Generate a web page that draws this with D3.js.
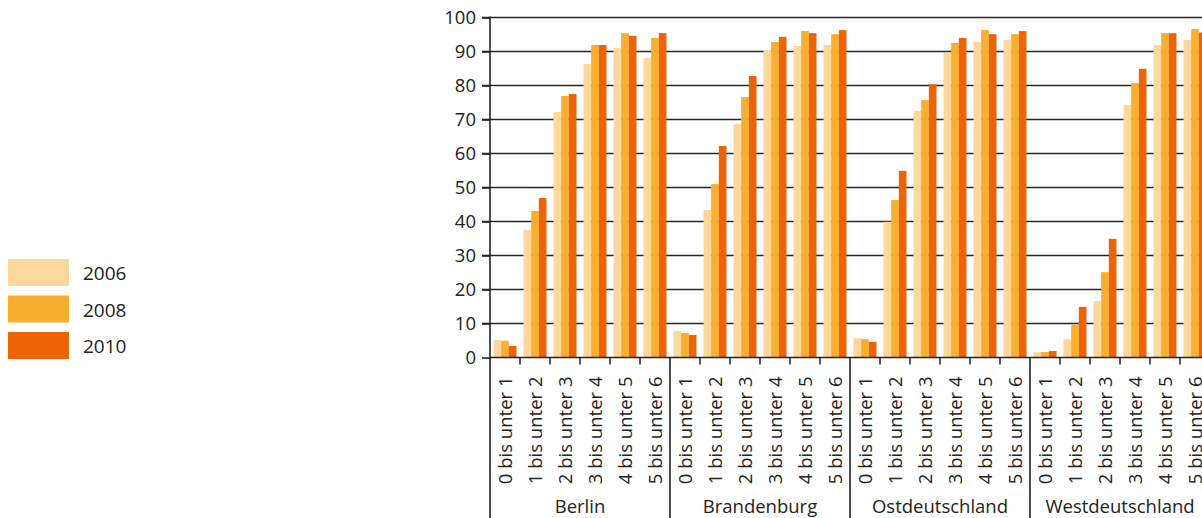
<!DOCTYPE html>
<html><head><meta charset="utf-8">
<script src="https://cdn.jsdelivr.net/npm/d3@7"></script>
<style>
body{margin:0;background:#fff;}
svg{display:block;font-family:"Open Sans","Noto Sans",sans-serif;}
</style></head>
<body><svg id="c" width="1202" height="518"></svg>
<script>
const regions = ["Berlin","Brandenburg","Ostdeutschland","Westdeutschland"];
const ageGroups = ["0 bis unter 1","1 bis unter 2","2 bis unter 3","3 bis unter 4","4 bis unter 5","5 bis unter 6"];
const years = ["2006","2008","2010"];
const colors = ["#FDD89D","#F8AE2F","#EC6406"];
const yTicks = [0,10,20,30,40,50,60,70,80,90,100];
// values per region: rows = age groups, cols = years
const berlin = [[5.1,4.9,3.4],[37.5,43.1,46.9],[72.2,76.9,77.5],[86.3,91.9,91.9],[91.0,95.4,94.6],[88.1,94.0,95.4]];
const brandenburg = [[7.8,7.2,6.6],[43.4,51.0,62.2],[68.7,76.6,82.8],[90.4,92.8,94.3],[91.6,96.0,95.4],[91.9,95.1,96.3]];
const ostdeutschland = [[5.7,5.4,4.6],[39.9,46.3,54.9],[72.5,75.7,80.4],[89.6,92.5,94.0],[92.8,96.3,95.1],[93.4,95.1,96.0]];
const westdeutschland = [[1.6,1.6,1.9],[5.4,9.6,14.9],[16.6,25.1,34.9],[74.3,80.7,84.9],[91.9,95.4,95.4],[93.4,96.6,95.6]];
const values = [berlin, brandenburg, ostdeutschland, westdeutschland];

const svg = d3.select("#c");
const pLeft = 490, pRight = 1210, pTop = 17.5, pBase = 357.5;
const y = d3.scaleLinear().domain([0,100]).range([pBase, pTop]);
const xG = d3.scaleBand().domain(regions).range([pLeft, pRight]).padding(0);
const xA = d3.scaleBand().domain(ageGroups).range([0, xG.bandwidth()]).padding(0);
const xY = d3.scaleBand().domain(years).range([0, xA.bandwidth()]).paddingInner(0).paddingOuter(0.46);
const col = d3.scaleOrdinal().domain(years).range(colors);
const ink = "#222";
const fsTick = 18.5, fsBig = 18.5;

// gridlines
svg.append("g").selectAll("line").data(yTicks.filter(d=>d>0)).join("line")
  .attr("x1", pLeft-8).attr("x2", pRight).attr("y1", d=>y(d)).attr("y2", d=>y(d))
  .attr("stroke", "#262626").attr("stroke-width", 1.6);

// bars
const gg = svg.append("g").selectAll("g").data(regions).join("g")
  .attr("transform", d=>`translate(${xG(d)},0)`);
gg.each(function(r, ri){
  const ag = d3.select(this).selectAll("g").data(ageGroups).join("g")
    .attr("transform", d=>`translate(${xA(d)},0)`);
  ag.each(function(a, ai){
    d3.select(this).selectAll("rect").data(years).join("rect")
      .attr("x", d=>xY(d)).attr("width", xY.bandwidth())
      .attr("y", (d,yi)=>y(values[ri][ai][yi]))
      .attr("height", (d,yi)=>pBase - y(values[ri][ai][yi]))
      .attr("fill", d=>col(d));
  });
});

// y axis
const yAx = svg.append("g").attr("transform", `translate(${pLeft},0)`)
  .call(d3.axisLeft(y).tickValues(yTicks).tickSize(8).tickPadding(6));
yAx.select(".domain").remove();
yAx.selectAll(".tick line").attr("stroke", ink).attr("stroke-width", 1.6);
yAx.selectAll(".tick text").attr("fill", ink).attr("font-size", fsTick).attr("font-family", "'Open Sans','Noto Sans',sans-serif");
svg.append("line").attr("x1", pLeft).attr("x2", pLeft).attr("y1", pTop-1).attr("y2", 518)
  .attr("stroke", ink).attr("stroke-width", 1.6);
// baseline
svg.append("line").attr("x1", pLeft).attr("x2", pRight).attr("y1", pBase).attr("y2", pBase)
  .attr("stroke", ink).attr("stroke-width", 1.6);

// category ticks and labels
gg.each(function(r){
  const g = d3.select(this);
  g.selectAll("line.tk").data(ageGroups.slice(1)).join("line").attr("class","tk")
    .attr("x1", d=>xA(d)).attr("x2", d=>xA(d)).attr("y1", pBase).attr("y2", pBase+7)
    .attr("stroke", ink).attr("stroke-width", 1.5);
  g.selectAll("text.al").data(ageGroups).join("text").attr("class","al")
    .attr("transform", d=>`translate(${xA(d)+xA.bandwidth()/2+6.5},${pBase+19}) rotate(-90)`)
    .attr("text-anchor","end").attr("font-size", fsTick).attr("fill", ink).text(d=>d);
  g.append("text").attr("x", xG.bandwidth()/2).attr("y", 513)
    .attr("text-anchor","middle").attr("font-size", fsBig).attr("fill", ink).text(r);
});
// region separators
svg.append("g").selectAll("line").data(regions.slice(1)).join("line")
  .attr("x1", d=>xG(d)).attr("x2", d=>xG(d)).attr("y1", pBase).attr("y2", 518)
  .attr("stroke", ink).attr("stroke-width", 1.6);

// legend
const lg = svg.append("g").selectAll("g").data(years).join("g")
  .attr("transform", (d,i)=>`translate(8,${259 + i*36.5})`);
lg.append("rect").attr("width", 61).attr("height", 27).attr("fill", d=>col(d));
lg.append("text").attr("x", 75).attr("y", 21).attr("font-size", 19).attr("fill", ink).text(d=>d);
</script></body></html>
